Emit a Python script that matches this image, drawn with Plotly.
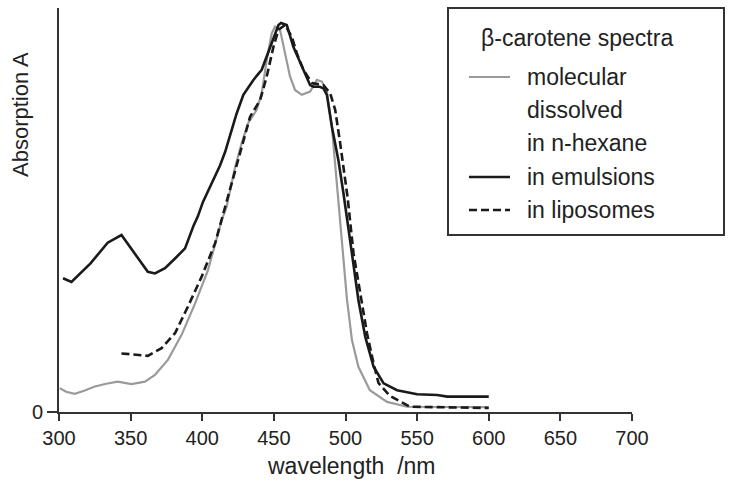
import plotly.graph_objects as go

# ---------------- data ----------------
emul_wl = [302.8, 308.7, 322, 334, 343.6, 352, 362, 367, 374, 381, 388, 393.7, 397, 400.5,
           407.7, 412.4, 416, 424, 428.7, 435.7, 441.5, 447.3, 453.2, 455, 459, 463.6, 470.6,
           475.3, 477.6, 482, 484.6, 487, 490.5, 495, 498.6, 502, 504.5, 509, 513.8, 519.6,
           526.6, 536, 550, 564, 571, 600]
emul_val = [33.1, 32.2, 36.8, 41.9, 43.8, 39.7, 34.7, 34.3, 35.6, 38.0, 40.5, 45.9, 48.5, 52.0,
            57.4, 61.0, 64.4, 73.9, 78.5, 82.2, 84.7, 90.4, 95.8, 96.3, 95.8, 90.4, 84.7,
            80.9, 80.5, 80.5, 80.1, 78.5, 70.6, 62.4, 54.1, 45.9, 39.2, 27.7, 18.6, 11.2,
            7.1, 5.4, 4.4, 4.2, 3.8, 3.8]

mol_wl = [300.5, 305, 311, 318, 325, 333, 341, 350.6, 360, 367, 376, 385.6, 395, 404, 413.6,
          417, 423, 427.5, 432, 438, 441.5, 445, 448.5, 450.8, 454.3, 457.8, 461.3, 464.8,
          469.5, 475.3, 480, 483.5, 487, 490.5, 494, 498.5, 501, 504.5, 509, 517, 529, 543, 600]
mol_val = [5.9, 5.0, 4.5, 5.3, 6.3, 7.0, 7.5, 6.9, 7.5, 9.2, 12.9, 19.1, 26.9, 35.1, 47.5,
           50.8, 60.7, 66.5, 71.5, 74.8, 78.9, 87.1, 93.7, 95.4, 94.6, 88.8, 83.0, 79.7,
           78.5, 79.3, 82.2, 81.8, 79.3, 70.6, 57.0, 39.0, 28.0, 17.8, 11.2, 5.4, 2.5, 1.3, 1.2]

lipo_wl = [343.6, 353, 362, 371.6, 381, 390, 399.6, 409, 416, 422, 428.7, 433.4, 440.4, 445,
           449.7, 453.2, 457.8, 462.5, 466, 470.6, 476.5, 484.6, 489.3, 492.8, 496.3, 499.8,
           501.5, 505.6, 510.3, 515, 519.6, 523, 531, 545, 600]
lipo_val = [14.5, 14.1, 13.9, 15.8, 19.5, 26.1, 33.5, 41.8, 50.8, 58.0, 66.5, 73.1, 77.2, 83.0,
            90.4, 94.6, 95.8, 92.9, 88.8, 84.7, 81.4, 80.9, 78.9, 74.8, 66.5, 58.2,
            53.0, 39.3, 29.4, 19.5, 12.0, 7.2, 4.0, 1.3, 1.0]

x_ticks = [300, 350, 400, 450, 500, 550, 600, 650, 700]

legend_title = "β-carotene spectra"
legend_labels = ["molecular", "dissolved", "in n-hexane", "in emulsions", "in liposomes"]

# ---------------- styling ----------------
FONT = "Liberation Sans, Arial, Helvetica, sans-serif"
W, H = 730, 491
ML, MR, MT, MB = 59, 98, 8, 79
PW, PH = W - ML - MR, H - MT - MB


def px(xp):
    return (xp - ML) / PW


def py(yp):
    return (H - MB - yp) / PH


GRAY = "#9a9a9a"
BLACK = "#1a1a1a"

fig = go.Figure()
fig.add_trace(go.Scatter(x=mol_wl, y=mol_val, mode="lines", name="molecular dissolved in n-hexane",
                         line=dict(color=GRAY, width=2.2), showlegend=False))
fig.add_trace(go.Scatter(x=emul_wl, y=emul_val, mode="lines", name="in emulsions",
                         line=dict(color=BLACK, width=2.6), showlegend=False))
fig.add_trace(go.Scatter(x=lipo_wl, y=lipo_val, mode="lines", name="in liposomes",
                         line=dict(color=BLACK, width=2.6, dash="8px,4px"), showlegend=False))

fig.update_layout(
    width=W, height=H,
    margin=dict(l=ML, r=MR, t=MT, b=MB, pad=0),
    paper_bgcolor="white", plot_bgcolor="white",
    font=dict(family=FONT, color="#222"),
)
fig.update_xaxes(range=[300, 700], tickvals=x_ticks, ticks="outside", ticklen=7, tickwidth=1.5,
                 tickcolor="#333", showline=True, linecolor="#333", linewidth=2,
                 showgrid=False, zeroline=False, tickfont=dict(size=20, family=FONT, color="#222"))
fig.update_yaxes(range=[0, 100], tickvals=[0], ticktext=["0"], ticks="outside", ticklen=10,
                 tickwidth=1.5, tickcolor="#333", showline=True, linecolor="#333", linewidth=2,
                 showgrid=False, zeroline=False, tickfont=dict(size=20, family=FONT, color="#222"))

annotations = [
    dict(text="wavelength  /nm", x=px(351), y=py(466), xref="paper", yref="paper",
         showarrow=False, xanchor="center", yanchor="middle", font=dict(size=23, family=FONT)),
    dict(text="Absorption A", x=px(20), y=py(115), xref="paper", yref="paper", textangle=-90,
         showarrow=False, xanchor="center", yanchor="middle", font=dict(size=22, family=FONT)),
    dict(text=legend_title, x=px(479), y=py(38), xref="paper", yref="paper",
         showarrow=False, xanchor="left", yanchor="middle", font=dict(size=23, family=FONT)),
]
label_y = [77, 110, 143, 177, 210]
for lab, yy in zip(legend_labels, label_y):
    annotations.append(dict(text=lab, x=px(525), y=py(yy), xref="paper", yref="paper",
                            showarrow=False, xanchor="left", yanchor="middle",
                            font=dict(size=23, family=FONT)))
fig.update_layout(annotations=annotations)

shapes = [
    dict(type="rect", xref="paper", yref="paper", x0=px(448), x1=px(724), y0=py(235), y1=py(8),
         line=dict(color="#333", width=2), fillcolor="rgba(0,0,0,0)"),
    dict(type="line", xref="paper", yref="paper", x0=px(469), x1=px(510), y0=py(77), y1=py(77),
         line=dict(color=GRAY, width=2.2)),
    dict(type="line", xref="paper", yref="paper", x0=px(469), x1=px(510), y0=py(177), y1=py(177),
         line=dict(color=BLACK, width=2.6)),
    dict(type="line", xref="paper", yref="paper", x0=px(469), x1=px(510), y0=py(210), y1=py(210),
         line=dict(color=BLACK, width=2.6, dash="8px,4px")),
]
fig.update_layout(shapes=shapes)

fig.write_html("out.html", config={"displayModeBar": False},
               post_script="document.body.style.margin='0';document.body.style.overflow='hidden';")
